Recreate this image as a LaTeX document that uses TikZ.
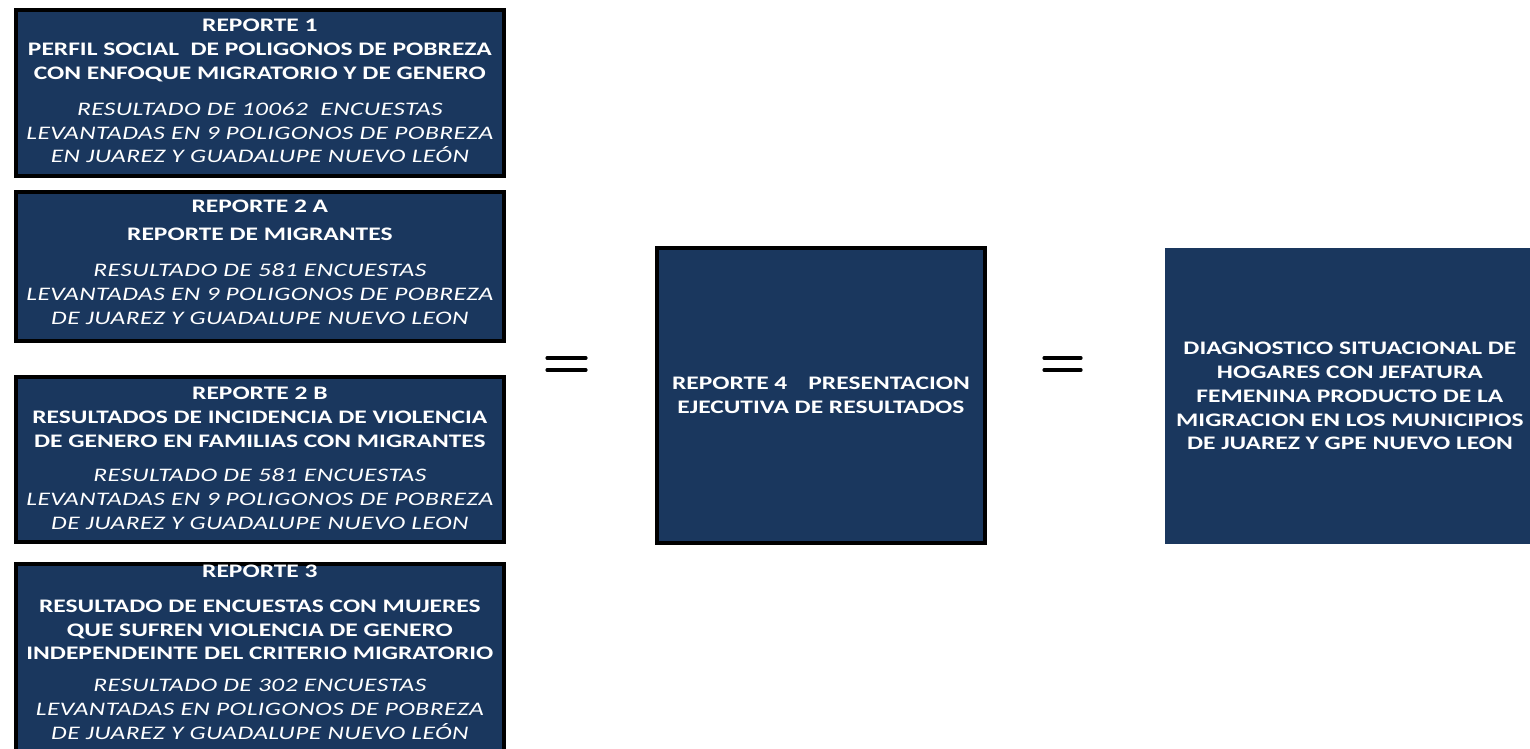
\documentclass[tikz,border=0pt]{standalone}
\usepackage{fontspec}
\setmainfont{Carlito}[FakeStretch=1.33, ItalicFeatures={LetterSpace=2.3}]
\usetikzlibrary{positioning}
\definecolor{navy}{RGB}{26,55,94}
\newcommand{\surveyline}[1]{{\mdseries\itshape #1}}
\newcommand{\liftby}[1]{\rule[-#1]{0pt}{0pt}}
\tikzset{every node/.style={font=\fontsize{10.9}{13.6}\selectfont\bfseries}}

\begin{document}
\begin{tikzpicture}[x=0.02cm, y=-0.02cm,
    report/.style={draw=black, line width=2.2pt, fill=navy, text=white,
      align=center, inner sep=0pt, anchor=north west},
    eqbar/.style={line width=1.8pt, line cap=round}]
    \useasboundingbox (0,0) rectangle (1530,748);
    % left column: reports 1 to 3
    \node[report, minimum width=9.76cm, minimum height=3.32cm] (rep1) at (14,8)
      {REPORTE 1\\
       PERFIL SOCIAL\ \ DE POLIGONOS DE POBREZA\\
       CON ENFOQUE MIGRATORIO Y DE GENERO\\[0.24cm]
       \surveyline{RESULTADO DE 10062\ \ ENCUESTAS}\\
       \surveyline{LEVANTADAS EN 9 POLIGONOS DE POBREZA}\\
       \surveyline{EN JUAREZ Y GUADALUPE NUEVO LEÓN}\liftby{0.08cm}};
    \node[report, minimum width=9.76cm, minimum height=2.98cm] (rep2a) at (14,190)
      {REPORTE 2 A\\[0.08cm]
       REPORTE DE MIGRANTES\\[0.24cm]
       \surveyline{RESULTADO DE 581 ENCUESTAS}\\
       \surveyline{LEVANTADAS EN 9 POLIGONOS DE POBREZA}\\
       \surveyline{DE JUAREZ Y GUADALUPE NUEVO LEON}\liftby{0.16cm}};
    \node[report, minimum width=9.76cm, minimum height=3.3cm] (rep2b) at (14,375)
      {REPORTE 2 B\\
       RESULTADOS DE INCIDENCIA DE VIOLENCIA\\
       DE GENERO EN FAMILIAS CON MIGRANTES\\[0.2cm]
       \surveyline{RESULTADO DE 581 ENCUESTAS}\\
       \surveyline{LEVANTADAS EN 9 POLIGONOS DE POBREZA}\\
       \surveyline{DE JUAREZ Y GUADALUPE NUEVO LEON}\liftby{0.05cm}};
    \node[report, minimum width=9.76cm, minimum height=3.8cm] (rep3) at (14,562)
      {REPORTE 3\\[0.22cm]
       RESULTADO DE ENCUESTAS CON MUJERES\\
       QUE SUFREN VIOLENCIA DE GENERO\\
       INDEPENDEINTE DEL CRITERIO MIGRATORIO\\[0.16cm]
       \surveyline{RESULTADO DE 302 ENCUESTAS}\\
       \surveyline{LEVANTADAS EN POLIGONOS DE POBREZA}\\
       \surveyline{DE JUAREZ Y GUADALUPE NUEVO LEÓN}\liftby{0.27cm}};
    % middle and right
    \node[report, minimum width=6.56cm, minimum height=5.9cm] (rep4) at (655,246)
      {REPORTE 4\hspace{1.1em}PRESENTACION\\
       EJECUTIVA DE RESULTADOS};
    \node[report, draw=none, minimum width=7.4cm, minimum height=5.92cm] (diag) at (1163,246)
      {DIAGNOSTICO SITUACIONAL DE\\
       HOGARES CON JEFATURA\\
       FEMENINA PRODUCTO DE LA\\
       MIGRACION EN LOS MUNICIPIOS\\
       DE JUAREZ Y GPE NUEVO LEON};
    % equal signs
    \draw[eqbar] (547,358) -- (586,358) (547,370) -- (586,370);
    \draw[eqbar] (1044,358) -- (1081,358) (1044,370) -- (1081,370);
\end{tikzpicture}
\end{document}
